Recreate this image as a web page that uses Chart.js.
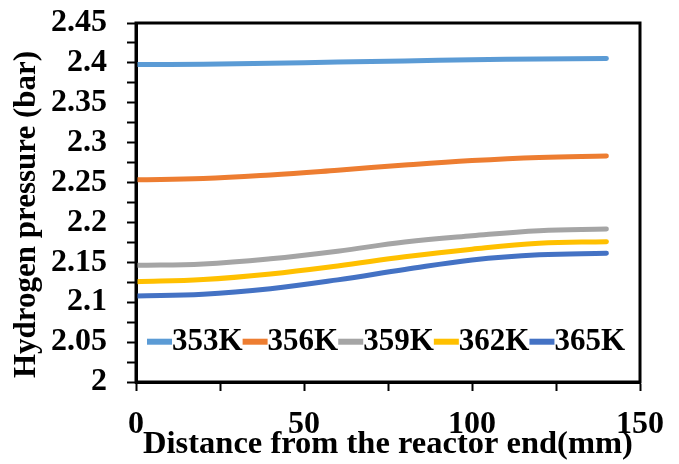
<!DOCTYPE html>
<html>
<head>
<meta charset="utf-8">
<script src="https://cdn.jsdelivr.net/npm/chart.js@4/dist/chart.umd.min.js"></script>
<style>
  html, body { margin: 0; padding: 0; background: #fff; }
  #wrap { width: 679px; height: 464px; }
</style>
</head>
<body>
<div id="wrap"><canvas id="c" width="679" height="464"></canvas></div>
<script>
// Distance along the reactor (mm) and hydrogen pressure (bar) per temperature
const distance = [0, 20, 40, 60, 80, 100, 120, 140];
const p353 = [2.398, 2.3983, 2.3995, 2.401, 2.4025, 2.404, 2.405, 2.4056];
const p356 = [2.2535, 2.255, 2.2595, 2.2655, 2.272, 2.2776, 2.2815, 2.2833];
const p359 = [2.1462, 2.148, 2.1545, 2.164, 2.1755, 2.1833, 2.1897, 2.1918];
const p362 = [2.1257, 2.1285, 2.1355, 2.1455, 2.157, 2.1665, 2.1738, 2.1759];
const p365 = [2.1078, 2.110, 2.117, 2.128, 2.141, 2.153, 2.1596, 2.1613];
const seriesLabels = ['353K', '356K', '359K', '362K', '365K'];
const seriesValues = [p353, p356, p359, p362, p365];
const seriesColors = ['#5B9BD5', '#ED7D31', '#A5A5A5', '#FFC000', '#4472C4'];
const yTitle = 'Hydrogen pressure (bar)';

const FONT = 'Liberation Serif, "Times New Roman", serif';

const datasets = seriesLabels.map((label, i) => ({
  label,
  data: distance.map((d, j) => ({ x: d, y: seriesValues[i][j] })),
  borderColor: seriesColors[i],
  backgroundColor: seriesColors[i],
  borderWidth: 5,
  borderCapStyle: 'round',
  pointRadius: 0,
  tension: 0.4,
  fill: false
}));

// Box around the plot area
const framePlugin = {
  id: 'frame',
  afterDatasetsDraw(chart) {
    const { ctx, chartArea: a } = chart;
    ctx.save();
    ctx.strokeStyle = '#000';
    ctx.lineWidth = 3;
    ctx.strokeRect(a.left, a.top, a.right - a.left, a.bottom - a.top);
    ctx.restore();
  }
};

// Vertical axis title, set a little below the middle of the plot
const yTitlePlugin = {
  id: 'yTitle',
  afterDraw(chart) {
    const { ctx, chartArea: a } = chart;
    ctx.save();
    ctx.translate(27, (a.top + a.bottom) / 2 + 12);
    ctx.rotate(-Math.PI / 2);
    ctx.font = 'bold 31px ' + FONT;
    ctx.fillStyle = '#000';
    ctx.textAlign = 'center';
    ctx.textBaseline = 'middle';
    ctx.fillText(yTitle, 0, 0);
    ctx.restore();
  }
};

// Single-row legend drawn inside the plot, near the bottom
const innerLegend = {
  id: 'innerLegend',
  afterDatasetsDraw(chart) {
    const { ctx, chartArea: a } = chart;
    const yc = chart.scales.y.getPixelForValue(2.0505);
    let x = a.left + 11;
    ctx.save();
    ctx.font = 'bold 31px ' + FONT;
    ctx.textBaseline = 'middle';
    ctx.textAlign = 'left';
    chart.data.datasets.forEach(ds => {
      ctx.fillStyle = ds.borderColor;
      ctx.fillRect(x, yc - 3, 25, 6);
      x += 25;
      ctx.fillStyle = '#000';
      ctx.fillText(ds.label, x, yc);
      x += ctx.measureText(ds.label).width;
    });
    ctx.restore();
  }
};

new Chart(document.getElementById('c'), {
  type: 'line',
  data: { datasets },
  options: {
    responsive: false,
    animation: false,
    devicePixelRatio: 1,
    layout: { padding: { top: 23, right: 39, left: 0, bottom: 0 } },
    plugins: { legend: { display: false }, tooltip: { enabled: false } },
    scales: {
      x: {
        type: 'linear',
        min: 0,
        max: 150,
        afterFit(scale) {
          scale.height = 82;
          scale.paddingLeft = 0;
          scale.paddingRight = 0;
        },
        border: { display: true, color: '#000', width: 3 },
        grid: { display: true, drawOnChartArea: false, drawTicks: true, tickLength: 9, tickWidth: 2, tickColor: '#000' },
        ticks: {
          stepSize: 25,
          autoSkip: false,
          maxRotation: 0,
          padding: 15,
          color: '#000',
          font: { family: FONT, size: 32, weight: 'bold' },
          callback: v => (Math.round(v) % 50 === 0 ? String(Math.round(v)) : '')
        },
        title: {
          display: true,
          text: 'Distance from the reactor end(mm)',
          color: '#000',
          font: { family: FONT, size: 32.5, weight: 'bold', lineHeight: 1.2 },
          padding: { top: 0, bottom: 0 }
        }
      },
      y: {
        min: 2,
        max: 2.45,
        afterFit(scale) {
          scale.width = 136;
          scale.paddingTop = 0;
          scale.paddingBottom = 0;
        },
        border: { display: true, color: '#000', width: 3 },
        grid: { display: true, drawOnChartArea: false, drawTicks: true, tickLength: 9, tickWidth: 2, tickColor: '#000' },
        ticks: {
          stepSize: 0.025,
          autoSkip: false,
          padding: 20,
          color: '#000',
          font: { family: FONT, size: 32, weight: 'bold' },
          callback: v => {
            const m = Math.round(v * 1000);
            return m % 50 === 0 ? String(m / 1000) : '';
          }
        },
        title: { display: false }
      }
    }
  },
  plugins: [framePlugin, yTitlePlugin, innerLegend]
});
</script>
</body>
</html>
